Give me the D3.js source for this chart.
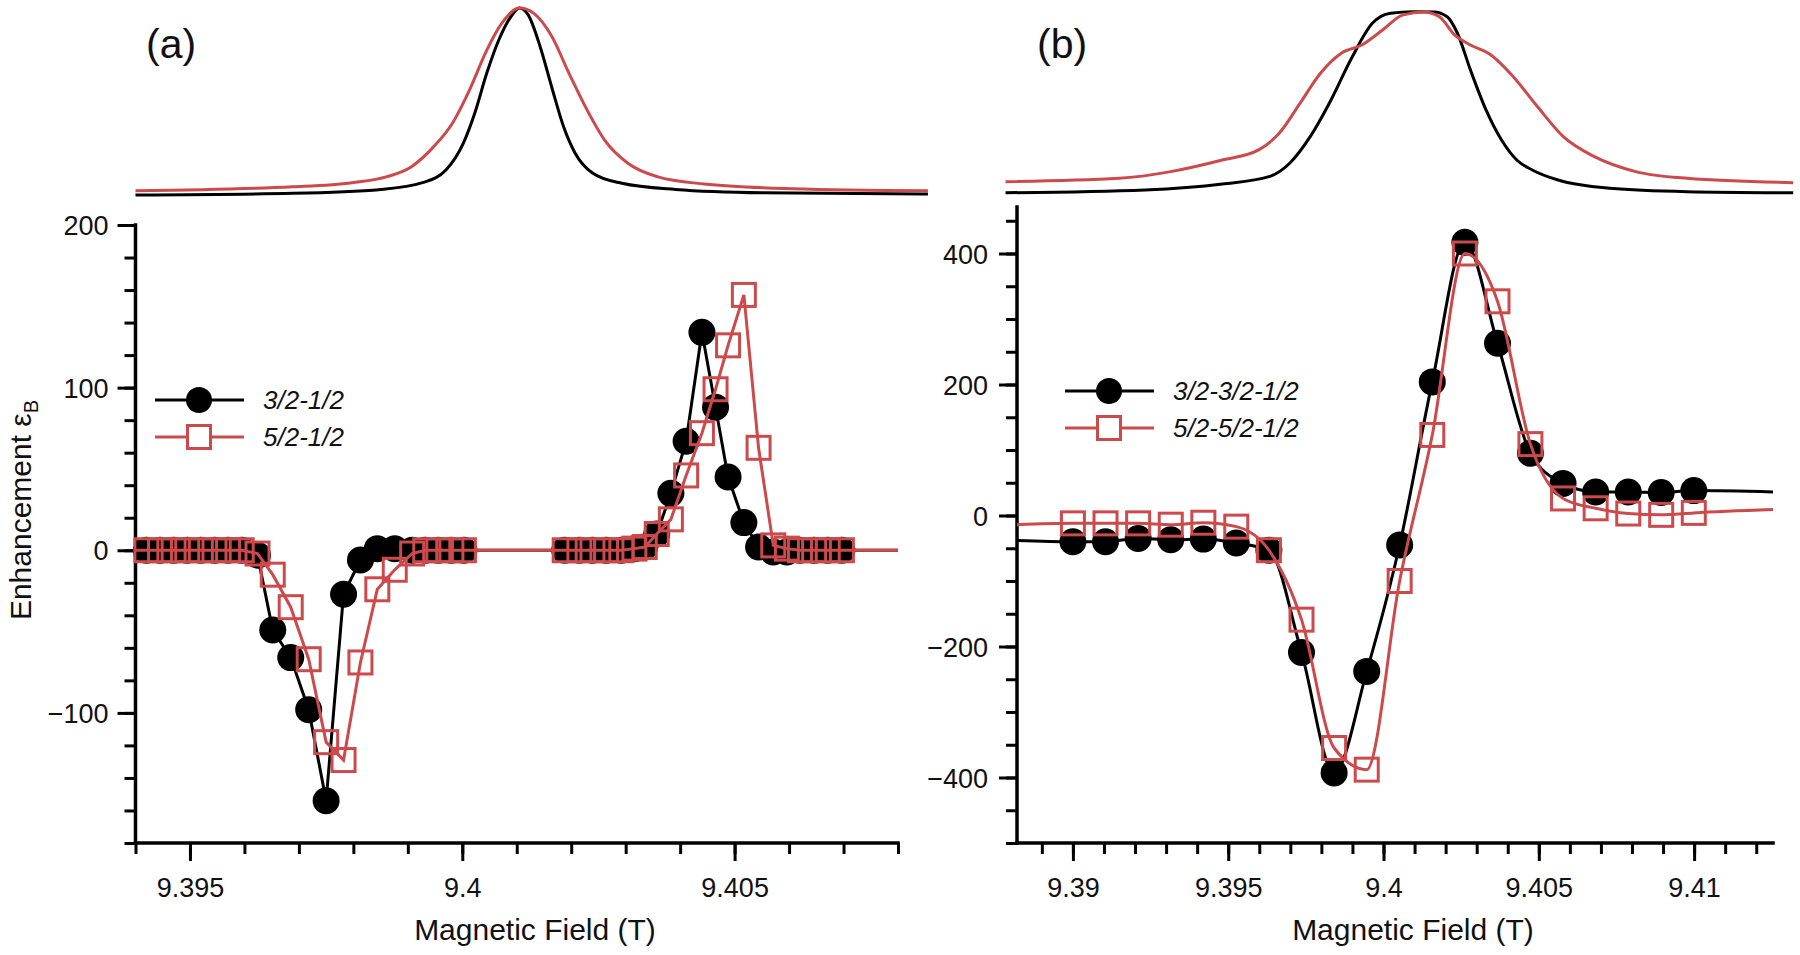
<!DOCTYPE html>
<html><head><meta charset="utf-8">
<script src="https://cdn.jsdelivr.net/npm/d3@7"></script>
<style>
body{margin:0;background:#fff;}
svg text{font-family:"Liberation Sans",Arial,sans-serif;fill:#111;}
</style>
</head><body>
<svg id="c" width="1800" height="955"></svg>
<script>
// ---------------- DATA ----------------
// Panel (a): DNP enhancement vs field
const fieldsA = [9.3942, 9.39445, 9.3947, 9.39495, 9.3952, 9.39545, 9.3957, 9.39595,
  9.39624, 9.39652, 9.39685, 9.39718, 9.3975, 9.39782, 9.39813, 9.39844, 9.39876, 9.39908,
  9.39932, 9.39956, 9.3998, 9.40003,
  9.40188, 9.40215, 9.40239, 9.40264, 9.40292, 9.40316, 9.40335, 9.40357, 9.40383, 9.40411,
  9.4044, 9.40465, 9.40488, 9.40517, 9.40544, 9.40571, 9.40596, 9.4062, 9.40646, 9.40671, 9.40697];
const enhA_32 = [0, 0, 0, 0, 0, 0, 0, 0,
  -3, -49, -66, -98, -154, -27, -6, 1, 1, 0,
  0, 0, 0, 0,
  0, 0, 0, 0, 0, 1, 2, 10, 35, 67,
  134, 88, 45, 17, 2, -1, -1, 0, 0, 0, 0];
const enhA_52 = [0, 0, 0, 0, 0, 0, 0, 0,
  -2, -15, -35, -67, -118, -129, -69, -24, -12, -2,
  0, 0, 0, 0,
  0, 0, 0, 0, 0, 1, 2, 10, 19, 46,
  72, 99, 126, 157, 63, 3, 1, 0, 0, 0, 0];
const lineEndsA_field = [9.394, 9.408];
const lineEndsA_32 = [0, 0];
const lineEndsA_52 = [0, 0];

// Panel (b)
const fieldsB = [9.39000, 9.39105, 9.39210, 9.39315, 9.39420, 9.39526, 9.39631, 9.39736, 9.39841, 9.39946,
  9.40052, 9.40157, 9.40262, 9.40367, 9.40473, 9.40578, 9.40683, 9.40788, 9.40894, 9.40999];
const enhB_32 = [-40, -40, -35, -37, -36, -42, -53, -209, -393, -238,
  -45, 204, 417, 263, 95, 49, 36, 36, 35, 38];
const enhB_52 = [-12, -12, -12, -14, -11, -17, -53, -159, -355, -388,
  -100, 123, 400, 327, 109, 26, 11, 3, 1, 4];
const lineEndsB_field = [9.3882, 9.41254];
const lineEndsB_32 = [-38, 36];
const lineEndsB_52 = [-14, 9];

// Top spectra (normalised intensity)
const topA_blackField = [9.394, 9.39689, 9.39851, 9.39927, 9.3997, 9.40002, 9.40023, 9.40045, 9.40067, 9.40089,
  9.40105, 9.40121, 9.40143, 9.40164, 9.40186, 9.40207, 9.40239, 9.40293, 9.40391, 9.40552, 9.40855];
const topA_blackInt = [0.0, 0.009, 0.030, 0.066, 0.134, 0.278, 0.439, 0.652, 0.829, 0.953,
  1.0, 0.963, 0.793, 0.579, 0.365, 0.225, 0.118, 0.063, 0.030, 0.012, 0.005];
const topA_redField = [9.394, 9.39689, 9.39798, 9.39862, 9.39906, 9.39948, 9.39981, 9.40013, 9.40045, 9.40073,
  9.40105, 9.40132, 9.40164, 9.40196, 9.40229, 9.40261, 9.40304, 9.40358, 9.40444, 9.40605, 9.40855];
const topA_redInt = [0.023, 0.044, 0.066, 0.098, 0.150, 0.260, 0.380, 0.560, 0.775, 0.920,
  1.0, 0.970, 0.850, 0.650, 0.455, 0.295, 0.170, 0.098, 0.059, 0.034, 0.023];

const topB_blackField = [9.38783, 9.39232, 9.39481, 9.39631, 9.39698, 9.39764, 9.39831, 9.39897, 9.39964, 9.40022,
  9.40097, 9.40163, 9.40205, 9.40238, 9.4028, 9.4033, 9.4038, 9.40429, 9.40479, 9.40562, 9.40729, 9.40978, 9.41319];
const topB_blackInt = [0.012, 0.027, 0.059, 0.098, 0.17, 0.312, 0.508, 0.731, 0.918, 0.972,
  0.98, 0.979, 0.953, 0.865, 0.668, 0.455, 0.294, 0.187, 0.134, 0.080, 0.036, 0.018, 0.012];
const topB_redField = [9.38783, 9.39149, 9.39315, 9.39481, 9.39598, 9.39664, 9.39731, 9.39797, 9.39864, 9.3993,
  9.39997, 9.40063, 9.4013, 9.4018, 9.40229, 9.4028, 9.40346, 9.40413, 9.40496, 9.40579, 9.40679, 9.40812, 9.40978, 9.41319];
const topB_redInt = [0.071, 0.089, 0.125, 0.187, 0.241, 0.33, 0.49, 0.651, 0.758, 0.802,
  0.882, 0.963, 0.979, 0.953, 0.856, 0.802, 0.749, 0.642, 0.472, 0.312, 0.205, 0.125, 0.089, 0.066];

// Axis ticks / labels
const xMajorA = [9.395, 9.4, 9.405];
const xMajorB = [9.39, 9.395, 9.4, 9.405, 9.41];
const yMajorA = [-100, 0, 100, 200];
const yMajorB = [-400, -200, 0, 200, 400];
const legendA = ["3/2-1/2", "5/2-1/2"];
const legendB = ["3/2-3/2-1/2", "5/2-5/2-1/2"];
const panelLabels = ["(a)", "(b)"];
const xTitle = "Magnetic Field (T)";
const yTitle = "Enhancement ε";
const yTitleSub = "B";

// ---------------- DRAWING ----------------
const RED = "#cc4a4c", BLK = "#000";
const svg = d3.select("#c");
const FONT = "Liberation Sans, Arial, sans-serif";

const xA = d3.scaleLinear().domain([9.394, 9.408]).range([135.5, 898]);
const yA = d3.scaleLinear().domain([-180, 200]).range([843, 225]);
const xB = d3.scaleLinear().domain([9.3882, 9.41254]).range([1017, 1773]);
const yB = d3.scaleLinear().domain([-500, 471]).range([843, 207]);
const yTop = d3.scaleLinear().domain([0, 1]).range([195, 8]);

const minus = d => d < 0 ? "\u2212" + (-d) : String(d);

function drawAxes(x, y, xMinor, yMinor, xMajor, yMajor, labelPadY) {
  const x0 = x.range()[0], y0 = y.range()[0];
  svg.append("g").attr("transform", `translate(0,${y0})`)
    .call(d3.axisBottom(x).tickValues(xMinor).tickSize(11).tickFormat(""))
    .call(g => { g.select(".domain").remove(); g.selectAll("line").attr("stroke", "#000").attr("stroke-width", 3); });
  const gx = svg.append("g").attr("transform", `translate(0,${y0})`)
    .call(d3.axisBottom(x).tickValues(xMajor).tickSize(18).tickFormat(d => String(+d.toFixed(3))))
    .call(g => { g.select(".domain").remove(); g.selectAll("line").attr("stroke", "#000").attr("stroke-width", 3); });
  gx.selectAll("text").attr("y", 54).attr("dy", 0).attr("font-size", 27).attr("font-family", FONT).attr("fill", "#111");
  svg.append("g").attr("transform", `translate(${x0},0)`)
    .call(d3.axisLeft(y).tickValues(yMinor).tickSize(11).tickFormat(""))
    .call(g => { g.select(".domain").remove(); g.selectAll("line").attr("stroke", "#000").attr("stroke-width", 3); });
  const gy = svg.append("g").attr("transform", `translate(${x0},0)`)
    .call(d3.axisLeft(y).tickValues(yMajor).tickSize(18).tickPadding(labelPadY).tickFormat(minus))
    .call(g => { g.select(".domain").remove(); g.selectAll("line").attr("stroke", "#000").attr("stroke-width", 3); });
  gy.selectAll("text").attr("dy", "0.36em").attr("font-size", 27).attr("font-family", FONT).attr("fill", "#111");
  svg.append("line").attr("x1", x0).attr("x2", x.range()[1]).attr("y1", y0).attr("y2", y0)
    .attr("stroke", "#000").attr("stroke-width", 3.5).attr("stroke-linecap", "square");
  svg.append("line").attr("x1", x0).attr("x2", x0).attr("y1", y0).attr("y2", y.range()[1])
    .attr("stroke", "#000").attr("stroke-width", 3.5).attr("stroke-linecap", "square");
}

drawAxes(xA, yA, d3.range(9394, 9409).map(d => d / 1000), d3.range(-180, 201, 20), xMajorA, yMajorA, 9);
drawAxes(xB, yB, d3.range(9389, 9413).map(d => d / 1000), d3.range(-500, 471, 50), xMajorB, yMajorB, 11);

// axis titles
svg.append("text").attr("x", 535).attr("y", 940).attr("text-anchor", "middle").attr("font-size", 30).text(xTitle);
svg.append("text").attr("x", 1413).attr("y", 940).attr("text-anchor", "middle").attr("font-size", 30).text(xTitle);
const yt = svg.append("text").attr("transform", "translate(31,510) rotate(-90)").attr("text-anchor", "middle").attr("font-size", 30);
yt.append("tspan").text(yTitle);
yt.append("tspan").attr("font-size", 20).attr("dy", 7).text(yTitleSub);

// panel labels
svg.append("text").attr("x", 146).attr("y", 58).attr("font-size", 41).text(panelLabels[0]);
svg.append("text").attr("x", 1037).attr("y", 58).attr("font-size", 41).text(panelLabels[1]);

// top spectra
function topLine(x, fields, ints, color) {
  const pts = fields.map((f, i) => [f, ints[i]]);
  svg.append("path").datum(pts)
    .attr("d", d3.line().x(d => x(d[0])).y(d => yTop(d[1])).curve(d3.curveMonotoneX))
    .attr("fill", "none").attr("stroke", color).attr("stroke-width", 3);
}
topLine(xA, topA_blackField, topA_blackInt, BLK);
topLine(xA, topA_redField, topA_redInt, RED);
topLine(xB, topB_blackField, topB_blackInt, BLK);
topLine(xB, topB_redField, topB_redInt, RED);

// series
function series(x, y, fields, vals, ends, endVals, color, marker, curve) {
  const pts = fields.map((f, i) => [f, vals[i]]);
  const linePts = [[ends[0], endVals[0]], ...pts, [ends[1], endVals[1]]];
  svg.append("path").datum(linePts)
    .attr("d", d3.line().x(d => x(d[0])).y(d => y(d[1])).curve(curve))
    .attr("fill", "none").attr("stroke", color).attr("stroke-width", 3);
  const g = svg.append("g");
  if (marker === "circle") {
    g.selectAll("circle").data(pts).join("circle")
      .attr("cx", d => x(d[0])).attr("cy", d => y(d[1])).attr("r", 13.5).attr("fill", color);
  } else {
    g.selectAll("rect").data(pts).join("rect")
      .attr("x", d => x(d[0]) - 11.5).attr("y", d => y(d[1]) - 11.5).attr("width", 23).attr("height", 23)
      .attr("fill", "none").attr("stroke", color).attr("stroke-width", 3);
  }
}
series(xA, yA, fieldsA, enhA_32, lineEndsA_field, lineEndsA_32, BLK, "circle", d3.curveLinear);
series(xA, yA, fieldsA, enhA_52, lineEndsA_field, lineEndsA_52, RED, "square", d3.curveLinear);
series(xB, yB, fieldsB, enhB_32, lineEndsB_field, lineEndsB_32, BLK, "circle", d3.curveMonotoneX);
series(xB, yB, fieldsB, enhB_52, lineEndsB_field, lineEndsB_52, RED, "square", d3.curveMonotoneX);

// legends
function legend(x0, yb, yr, labels) {
  const items = [[BLK, "circle", yb, labels[0]], [RED, "square", yr, labels[1]]];
  items.forEach(([c, m, yy, lab]) => {
    svg.append("line").attr("x1", x0).attr("x2", x0 + 89).attr("y1", yy).attr("y2", yy)
      .attr("stroke", c).attr("stroke-width", 3);
    if (m === "circle") svg.append("circle").attr("cx", x0 + 44).attr("cy", yy).attr("r", 13).attr("fill", c);
    else svg.append("rect").attr("x", x0 + 44 - 11.5).attr("y", yy - 11.5).attr("width", 23).attr("height", 23)
      .attr("fill", "#fff").attr("stroke", c).attr("stroke-width", 3);
    svg.append("text").attr("x", x0 + 108).attr("y", yy + 9).attr("font-size", 26).attr("font-style", "italic").text(lab);
  });
}
legend(155, 400, 437, legendA);
legend(1065, 391, 428, legendB);
</script>
</body></html>
